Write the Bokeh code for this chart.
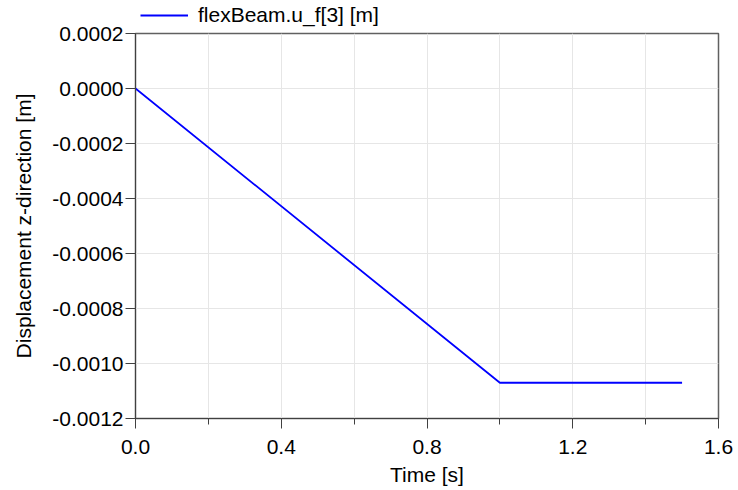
from bokeh.plotting import figure
from bokeh.layouts import column
from bokeh.models import Range1d, FixedTicker, PrintfTickFormatter, Legend, LegendItem
from bokeh.embed import file_html
from bokeh.resources import INLINE

# Data
time_s = [0.0, 1.0, 1.5]
u_f3 = [0.0, -0.00107, -0.00107]
series_label = "flexBeam.u_f[3] [m]"
x_major = [0.0, 0.4, 0.8, 1.2, 1.6]
x_minor = [0.2, 0.6, 1.0, 1.4]
y_major = [0.0002, 0.0, -0.0002, -0.0004, -0.0006, -0.0008, -0.0010, -0.0012]

FONT = "Liberation Sans"
FS = "21px"
LINE_COLOR = "#0000ff"

# main plot
p = figure(width=738, height=490, output_backend="svg", toolbar_location=None,
           x_range=Range1d(0, 1.6), y_range=Range1d(-0.0012, 0.0002),
           min_border_left=135, min_border_right=20, min_border_top=33, min_border_bottom=72)

r = p.line(time_s, u_f3, line_color=LINE_COLOR, line_width=1.8)

p.xaxis.ticker = FixedTicker(ticks=x_major, minor_ticks=x_minor)
p.yaxis.ticker = FixedTicker(ticks=y_major, minor_ticks=[])
p.xaxis.formatter = PrintfTickFormatter(format="%.1f")
p.yaxis.formatter = PrintfTickFormatter(format="%.4f")

for ax in (p.xaxis, p.yaxis):
    ax.axis_line_color = "#404040"
    ax.major_tick_line_color = "#404040"
    ax.minor_tick_line_color = "#404040"
    ax.major_tick_in = 0
    ax.major_tick_out = 10
    ax.minor_tick_in = 0
    ax.minor_tick_out = 6
    ax.major_label_text_font = FONT
    ax.major_label_text_font_size = FS
    ax.major_label_text_color = "black"
    ax.axis_label_text_font = FONT
    ax.axis_label_text_font_size = FS
    ax.axis_label_text_font_style = "normal"
    ax.axis_label_text_color = "black"

p.xaxis.axis_label = "Time [s]"
p.yaxis.axis_label = "Displacement z-direction [m]"
p.xaxis.major_label_standoff = 11
p.yaxis.major_label_standoff = 2
p.xaxis.axis_label_standoff = 6
p.yaxis.axis_label_standoff = 14

p.xgrid.grid_line_color = "#e6e6e6"
p.xgrid.minor_grid_line_color = "#e6e6e6"
p.ygrid.grid_line_color = "#e6e6e6"
p.outline_line_color = "#606060"
p.outline_line_width = 1.5

# transparent strip laid over the top border, holding the legend
h = figure(width=738, height=30, output_backend="svg", toolbar_location=None,
           x_range=Range1d(10, 11), y_range=Range1d(10, 11),
           x_axis_location=None, y_axis_location=None,
           min_border_left=130, min_border_right=0, min_border_top=0, min_border_bottom=0,
           styles={"position": "absolute", "top": "-2px", "left": "0px"})
h.grid.visible = False
h.outline_line_color = None
h.background_fill_alpha = 0
h.border_fill_alpha = 0
hr = h.line(time_s, u_f3, line_color=LINE_COLOR, line_width=1.8)

legend = Legend(items=[LegendItem(label=series_label, renderers=[hr])],
                location="top_left", orientation="horizontal",
                padding=0, margin=5, border_line_color=None, background_fill_alpha=0,
                glyph_width=48, glyph_height=20, label_standoff=10,
                label_text_font=FONT, label_text_font_size=FS, label_text_color="black",
                label_height=20)
h.add_layout(legend, "center")

layout = column(p, h, spacing=0)
open("out.html", "w").write(file_html(layout, INLINE))
